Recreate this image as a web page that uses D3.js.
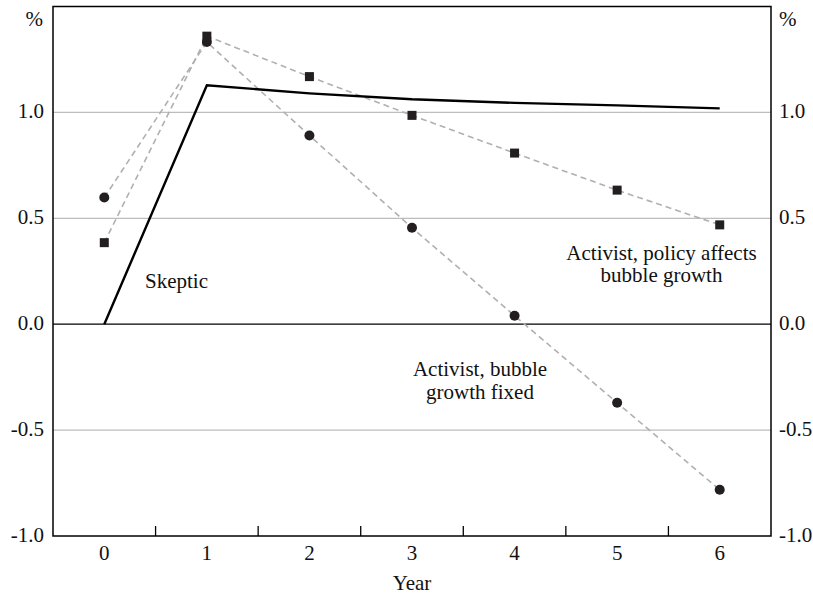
<!DOCTYPE html>
<html lang="en">
<head>
<meta charset="UTF-8">
<title>Bubble growth scenarios</title>
<script src="https://d3js.org/d3.v7.min.js"></script>
<style>
    body { margin: 0; padding: 0; background: #fff; }
    svg { display: block; }
    text { font-family: "Liberation Serif", "Times New Roman", serif; font-size: 21px; fill: #111; }
</style>
</head>
<body>
<svg id="chart" width="813" height="595"></svg>
<script>
    const years = ["0", "1", "2", "3", "4", "5", "6"];
    const skeptic = [0, 1.128, 1.09, 1.062, 1.045, 1.033, 1.019];
    const activistFixed = [0.598, 1.332, 0.891, 0.455, 0.04, -0.371, -0.782];
    const activistPolicy = [0.385, 1.36, 1.169, 0.986, 0.808, 0.633, 0.469];
    const yTicks = [-1.0, -0.5, 0.0, 0.5, 1.0];

    const margin = {top: 6.5, right: 42, bottom: 59, left: 53};
    const width = 813 - margin.left - margin.right;
    const height = 595 - margin.top - margin.bottom;

    const svg = d3.select("#chart");
    const g = svg.append("g").attr("transform", `translate(${margin.left},${margin.top})`);

    const x = d3.scaleBand().domain(years).range([0, width]);
    const y = d3.scaleLinear().domain([-1, 1.5]).range([height, 0]);
    const cx = d => x(d) + x.bandwidth() / 2;

    // gridlines
    g.selectAll(".grid")
        .data(yTicks.filter(t => t !== 0 && t !== -1))
        .enter().append("line")
        .attr("x1", 0).attr("x2", width)
        .attr("y1", d => y(d)).attr("y2", d => y(d))
        .attr("stroke", "#bdbdbd").attr("stroke-width", 1.2);

    // zero line
    g.append("line")
        .attr("x1", 0).attr("x2", width)
        .attr("y1", y(0)).attr("y2", y(0))
        .attr("stroke", "#000").attr("stroke-width", 1.3);

    // frame
    g.append("rect")
        .attr("width", width).attr("height", height)
        .attr("fill", "none").attr("stroke", "#000").attr("stroke-width", 1.5);

    // x ticks between categories, pointing up
    g.selectAll(".xtick")
        .data(years.slice(1))
        .enter().append("line")
        .attr("x1", d => x(d)).attr("x2", d => x(d))
        .attr("y1", height).attr("y2", height - 10)
        .attr("stroke", "#000").attr("stroke-width", 1.3);

    g.selectAll(".xlabel")
        .data(years)
        .enter().append("text")
        .attr("x", d => cx(d)).attr("y", height + 24)
        .attr("text-anchor", "middle")
        .text(d => d);

    g.append("text")
        .attr("x", width / 2).attr("y", height + 54)
        .attr("text-anchor", "middle")
        .text("Year");

    // y labels both sides, plain hyphen for negatives
    const fmt = d => d3.format(".1f")(d).replace("\u2212", "-");
    g.selectAll(".ylabL")
        .data(yTicks)
        .enter().append("text")
        .attr("x", -9).attr("y", d => y(d) + 6)
        .attr("text-anchor", "end")
        .text(d => fmt(d));

    g.selectAll(".ylabR")
        .data(yTicks)
        .enter().append("text")
        .attr("x", width + 8).attr("y", d => y(d) + 6)
        .attr("text-anchor", "start")
        .text(d => fmt(d));

    g.append("text").attr("x", -10).attr("y", 19.5).attr("text-anchor", "end").text("%");
    g.append("text").attr("x", width + 8).attr("y", 19.5).attr("text-anchor", "start").text("%");

    const line = d3.line()
        .x((d, i) => cx(years[i]))
        .y(d => y(d));

    // dashed activist lines
    [activistFixed, activistPolicy].forEach(series => {
        g.append("path")
            .datum(series)
            .attr("d", line)
            .attr("fill", "none")
            .attr("stroke", "#b0b0b0")
            .attr("stroke-width", 1.6)
            .attr("stroke-dasharray", "6,4");
    });

    // skeptic solid line
    g.append("path")
        .datum(skeptic)
        .attr("d", line)
        .attr("fill", "none")
        .attr("stroke", "#000")
        .attr("stroke-width", 2.4);

    // markers
    g.selectAll(".sq")
        .data(activistPolicy)
        .enter().append("rect")
        .attr("x", (d, i) => cx(years[i]) - 4.5)
        .attr("y", d => y(d) - 4.5)
        .attr("width", 9).attr("height", 9)
        .attr("fill", "#231f20");

    g.selectAll(".dot")
        .data(activistFixed)
        .enter().append("circle")
        .attr("cx", (d, i) => cx(years[i]))
        .attr("cy", d => y(d))
        .attr("r", 5)
        .attr("fill", "#231f20");

    // annotations
    g.append("text").attr("x", 92).attr("y", 281).text("Skeptic");

    const ann = g.append("text").attr("text-anchor", "middle");
    ann.append("tspan").attr("x", 608.5).attr("y", 253).text("Activist, policy affects");
    ann.append("tspan").attr("x", 608.5).attr("y", 275.5).text("bubble growth");

    const ann2 = g.append("text").attr("text-anchor", "middle");
    ann2.append("tspan").attr("x", 427).attr("y", 369.5).text("Activist, bubble");
    ann2.append("tspan").attr("x", 427).attr("y", 392).text("growth fixed");
</script>
</body>
</html>
